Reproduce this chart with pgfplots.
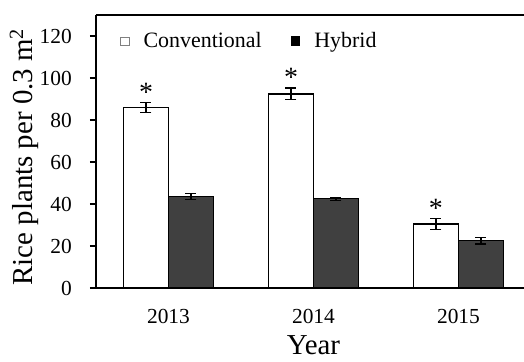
\documentclass[border=0pt]{standalone}
\usepackage{fontspec}
\setmainfont{Liberation Serif}
\usepackage{pgfplots}
\usepackage{pgfplotstable}
\pgfplotsset{compat=1.18}

\definecolor{hybridgray}{RGB}{64,64,64}

% rice plants per 0.3 m^2: mean and standard error
\pgfplotstableread{
x  y     err
0  86.0  2.4
1  92.4  2.8
2  30.5  2.6
}\conventional
\pgfplotstableread{
x  y     err
0  43.5  1.5
1  42.5  0.7
2  22.5  1.5
}\hybrid

\begin{document}
\begin{tikzpicture}
\begin{axis}[
  scale only axis,
  width=428bp, height=273bp,
  ybar=0pt, bar width=45bp,
  xmin=-0.5, xmax=2.452,
  ymin=0, ymax=130,
  ytick={0,20,...,120},
  xtick={0,1,2},
  xticklabels={2013,2014,2015},
  axis x line*=bottom,
  axis y line*=left,
  axis line style={line width=1.3bp, black},
  every tick/.style={line width=1.3bp, black},
  tick align=outside,
  major tick length=6bp,
  x tick style={draw=none},
  /pgf/number format/assume math mode=true,
  tick label style={font=\fontsize{21.5}{24}\selectfont},
  yticklabel style={anchor=east, inner sep=0pt, xshift=-18bp},
  xticklabel style={anchor=north, inner sep=0pt, yshift=-15bp},
  xlabel={Year},
  ylabel={Rice plants per 0.3 m\textsuperscript{2}},
  label style={font=\fontsize{29}{32}\selectfont},
  xlabel style={at={(axis description cs:0.508,-0.2454)}, anchor=base, inner sep=0pt},
  ylabel style={at={(axis description cs:-0.168,0.48)}, anchor=center},
  clip=false,
  legend columns=2,
  legend style={at={(axis description cs:0.056,0.905)}, anchor=west,
    draw=none, fill=none, inner sep=0pt,
    font=\fontsize{22}{24}\selectfont,
    cells={anchor=base west},
    nodes={inner sep=0pt},
    /tikz/every odd column/.append style={column sep=14bp},
    /tikz/every even column/.append style={column sep=29bp}},
  error bars/y dir=both,
  error bars/y explicit,
  error bars/error bar style={line width=1.3bp, black},
  error bars/error mark options={rotate=90, mark size=5.5bp, line width=1.3bp, black},
]
% Conventional cultivar, asterisks mark the significant differences
\addplot[draw=black, fill=white, line width=1.2bp,
  legend image code/.code={\path (0bp,0bp);
    \draw[draw=gray, line width=0.7bp, fill=white] (0bp,2.2bp) rectangle (8.5bp,10.7bp);},
  visualization depends on={\thisrow{err} \as \errval},
  nodes near coords={*},
  every node near coord/.style={anchor=south, inner sep=0pt,
    font=\fontsize{28}{28}\selectfont, xshift=-22.5bp, yshift={2.108*\errval + 0.5}}]
  table[x=x, y=y, y error=err] {\conventional};
\addlegendentry{Conventional}
% Hybrid cultivar
\addplot[draw=black, fill=hybridgray, line width=1.2bp,
  legend image code/.code={\path (0bp,0bp);
    \fill[black] (0bp,2.2bp) rectangle (8.5bp,10.7bp);}]
  table[x=x, y=y, y error=err] {\hybrid};
\addlegendentry{Hybrid}
% top frame line
\draw[line width=1.3bp, black] (rel axis cs:0,1) -- (rel axis cs:1,1);
\end{axis}
\pgfresetboundingbox
\path[use as bounding box] (-96bp,-74bp) rectangle (428bp,288bp);
\end{tikzpicture}
\end{document}
